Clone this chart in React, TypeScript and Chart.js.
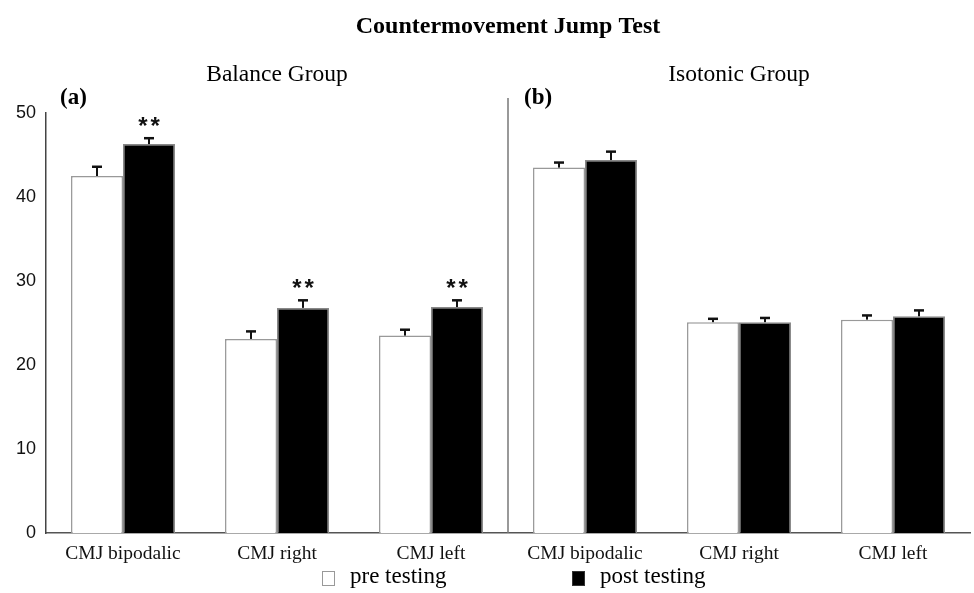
import React, { useEffect, useRef } from "react";
import { Chart, registerables } from "chart.js";

Chart.register(...registerables);

const categories = ["CMJ bipodalic", "CMJ right", "CMJ left", "CMJ bipodalic", "CMJ right", "CMJ left"];
const preValues = [42.5, 23.1, 23.5, 43.5, 25.1, 25.4];
const postValues = [46.3, 26.8, 26.9, 44.4, 25.1, 25.8];
const preErrTop = [43.6, 24.0, 24.2, 44.1, 25.5, 25.9];
const postErrTop = [47.0, 27.7, 27.7, 45.4, 25.6, 26.5];
const postStars = ["**", "**", "**", "", "", ""];
const groupTitles = ["Balance Group", "Isotonic Group"];
const panelLabels = ["(a)", "(b)"];
const seriesNames = ["pre testing", "post testing"];
const mainTitle = "Countermovement Jump Test";
const yTicks = [0, 10, 20, 30, 40, 50];

const SERIF = "'Liberation Serif', 'Times New Roman', serif";
const SANS = "'Liberation Sans', Arial, sans-serif";

const overlayPlugin = {
  id: "overlay",
  afterDatasetsDraw(chart: any) {
    const ctx = chart.ctx;
    const y = chart.scales.y;
    const errs = [preErrTop, postErrTop];
    ctx.save();
    chart.data.datasets.forEach((ds: any, di: number) => {
      const meta = chart.getDatasetMeta(di);
      meta.data.forEach((el: any, i: number) => {
        const top = y.getPixelForValue(errs[di][i]);
        ctx.strokeStyle = "#111";
        ctx.lineWidth = 2;
        ctx.beginPath();
        ctx.moveTo(el.x, el.y);
        ctx.lineTo(el.x, top);
        ctx.stroke();
        ctx.lineWidth = 2.5;
        ctx.beginPath();
        ctx.moveTo(el.x - 5, top);
        ctx.lineTo(el.x + 5, top);
        ctx.stroke();
        if (di === 1 && postStars[i]) {
          ctx.fillStyle = "#111";
          ctx.font = `bold 24px ${SANS}`;
          (ctx as any).letterSpacing = "3px";
          ctx.textAlign = "center";
          ctx.textBaseline = "middle";
          ctx.fillText(postStars[i], el.x + 1.5, top - 11);
          (ctx as any).letterSpacing = "0px";
        }
      });
    });
    ctx.restore();
  },
  afterDraw(chart: any) {
    const ctx = chart.ctx;
    const area = chart.chartArea;
    const x = chart.scales.x;
    const divX = (x.getPixelForValue(2) + x.getPixelForValue(3)) / 2;
    ctx.save();
    // divider
    ctx.strokeStyle = "#777";
    ctx.lineWidth = 1.5;
    ctx.beginPath();
    ctx.moveTo(divX, area.top - 15);
    ctx.lineTo(divX, area.bottom);
    ctx.stroke();

    const mid = (area.left + area.right) / 2;
    ctx.fillStyle = "#000";
    ctx.textAlign = "center";
    ctx.textBaseline = "middle";
    ctx.font = `bold 24px ${SERIF}`;
    ctx.fillText(mainTitle, mid, 27);

    ctx.font = `23.5px ${SERIF}`;
    ctx.fillText(groupTitles[0], (area.left + divX) / 2, 75);
    ctx.fillText(groupTitles[1], (divX + area.right) / 2, 75);

    ctx.textAlign = "left";
    ctx.font = `bold 23px ${SERIF}`;
    ctx.fillText(panelLabels[0], area.left + 14, 98);
    ctx.fillText(panelLabels[1], divX + 16, 98);

    // legend
    const ly = 578;
    const items = [
      { x: mid - 186, fill: "#fff", stroke: "#999" },
      { x: mid + 64, fill: "#000", stroke: "#333" },
    ];
    ctx.font = `23px ${SERIF}`;
    items.forEach((it, k) => {
      ctx.fillStyle = it.fill;
      ctx.fillRect(it.x, ly - 7, 13, 15);
      ctx.strokeStyle = it.stroke;
      ctx.lineWidth = 1;
      ctx.strokeRect(it.x + 0.5, ly - 6.5, 12, 14);
      ctx.fillStyle = "#000";
      ctx.fillText(seriesNames[k], it.x + 28, ly - 1);
    });
    ctx.restore();
  },
};

export default function App() {
  const ref = useRef<HTMLCanvasElement>(null);
  useEffect(() => {
    if (!ref.current) return;
    const chart = new Chart(ref.current, {
      type: "bar",
      data: {
        labels: categories,
        datasets: [
          {
            label: seriesNames[0],
            data: preValues,
            backgroundColor: "#ffffff",
            borderColor: "#999999",
            borderWidth: 1.5,
            barPercentage: 1,
            categoryPercentage: 0.675,
          },
          {
            label: seriesNames[1],
            data: postValues,
            backgroundColor: "#000000",
            borderColor: "#888888",
            borderWidth: 1.5,
            barPercentage: 1,
            categoryPercentage: 0.675,
          },
        ],
      },
      options: {
        responsive: false,
        animation: false,
        layout: { padding: { top: 113, right: 4, left: 0, bottom: 0 } },
        plugins: {
          legend: { display: false },
          title: { display: false },
          tooltip: { enabled: false },
        },
        scales: {
          x: {
            grid: { display: false, drawTicks: false },
            border: { display: true, color: "#555", width: 1.5 },
            ticks: {
              color: "#111",
              font: { family: SERIF, size: 19.5 },
              padding: 9,
              maxRotation: 0,
              autoSkip: false,
            },
            afterFit(scale: any) {
              scale.height = 60;
            },
          },
          y: {
            min: 0,
            max: 50,
            grid: { display: false, drawTicks: false },
            border: { display: true, color: "#444", width: 1.5 },
            afterBuildTicks(scale: any) {
              scale.ticks = yTicks.map((v) => ({ value: v }));
            },
            ticks: {
              color: "#111",
              font: { family: SANS, size: 18 },
              padding: 10,
            },
            afterFit(scale: any) {
              scale.width = 46;
            },
          },
        },
      },
      plugins: [overlayPlugin],
    });
    return () => chart.destroy();
  }, []);
  return (
    <div style={{ position: "fixed", left: 0, top: 0, width: 974, height: 593, background: "#fff" }}>
      <canvas ref={ref} width={974} height={593} style={{ display: "block" }} />
    </div>
  );
}
